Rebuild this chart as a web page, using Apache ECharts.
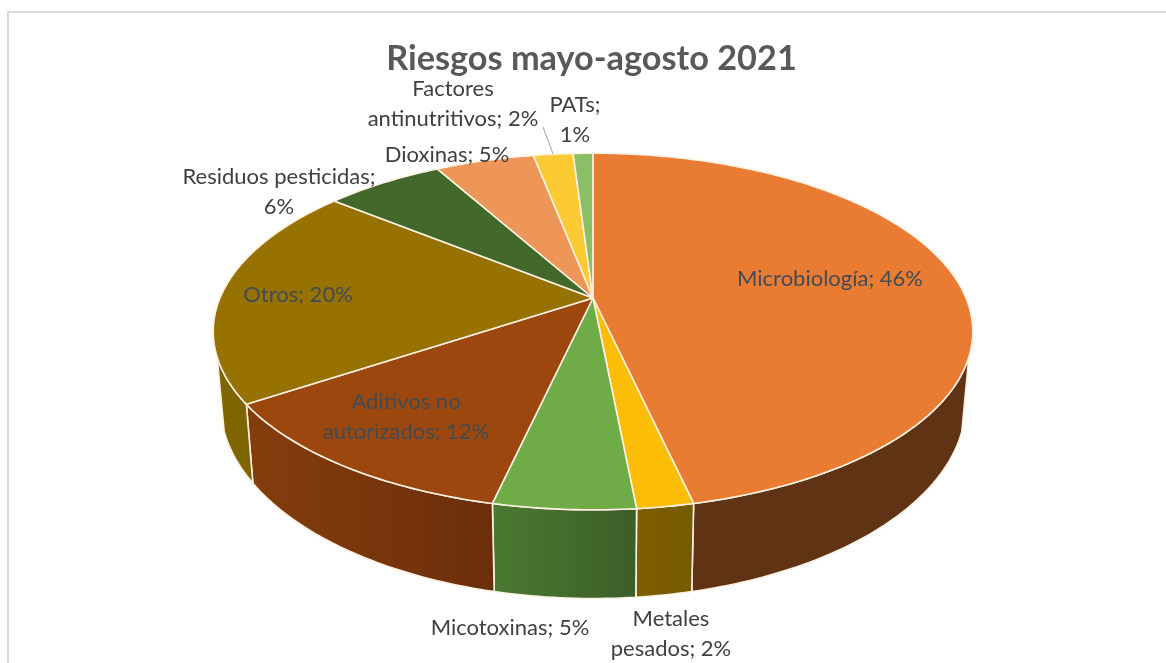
<!DOCTYPE html>
<html>
<head>
<meta charset="utf-8">
<style>
  html, body { margin: 0; padding: 0; background: #fff; overflow: hidden; }
  #chart { width: 1166px; height: 663px; }
</style>
<script src="https://cdn.jsdelivr.net/npm/echarts@6/dist/echarts.min.js"></script>
</head>
<body>
<div id="chart"></div>
<script>
// datos
const categories = ['Microbiología', 'Metales\npesados', 'Micotoxinas', 'Aditivos no\nautorizados', 'Otros', 'Residuos pesticidas', 'Dioxinas', 'Factores\nantinutritivos', 'PATs']
const values = [46, 2, 5, 12, 20, 6, 5, 2, 1]

// colores
const topColors = ['#ea7b32', '#fbbd05', '#6fab47', '#9c470e', '#977200', '#43682b', '#ee9558', '#fccb33', '#8abf67']
const wallColors = [
  ['#5f3314', '#5f3314'],
  ['#7d5e00', '#775a00'],
  ['#4a7a31', '#3c5e28'],
  ['#853d0c', '#6b2e0a'],
  ['#7f6500', '#7f6500'],
  ['#3a5a25', '#3a5a25'],
  ['#a0603a', '#a0603a'],
  ['#a98a20', '#a98a20'],
  ['#5d8245', '#5d8245']
]

// posicion de las etiquetas
const labelSeparators = [' ', ' ', ' ', ' ', ' ', '\n', ' ', ' ', '\n']
const labelAnchors = [[830, 279], [671, 634], [510, 628], [406, 417], [298, 295], [279, 192], [447, 155], [453, 104], [575, 120]]

// proyeccion en perspectiva del disco
const hubX = 593
const topDisc = { y: 298, a: 373, b: 172 }
const baseDisc = { y: 367, a: 366, b: 188 }
const tilt = 0.188
const wallFrom = 108.8
const wallTo = 251.2

const total = values.reduce((s, v) => s + v, 0)
const angleOf = (cum) => cum / total * 360

const project = (disc, deg) => {
  const t = deg * Math.PI / 180
  const w = 1 + tilt * Math.cos(t)
  return [hubX + disc.a * Math.sin(t) / w, disc.y - disc.b * Math.cos(t) / w]
}

const arc = (disc, from, to) => {
  const n = Math.max(2, Math.ceil(Math.abs(to - from)))
  const pts = []
  for (let i = 0; i <= n; i++) pts.push(project(disc, from + (to - from) * i / n))
  return pts
}

const sliceRange = (i) => {
  const before = values.slice(0, i).reduce((s, v) => s + v, 0)
  return [angleOf(before), angleOf(before + values[i])]
}

const renderTop = (params) => {
  const [from, to] = sliceRange(params.dataIndex)
  return {
    type: 'polygon',
    shape: { points: [[hubX, topDisc.y]].concat(arc(topDisc, from, to)) },
    style: { fill: topColors[params.dataIndex], stroke: '#fdf1e3', lineWidth: 1.6, lineJoin: 'round' }
  }
}

const renderWall = (params) => {
  const i = params.dataIndex
  const [start, end] = sliceRange(i)
  const from = Math.max(start, wallFrom)
  const to = Math.min(end, wallTo)
  if (to <= from) return null
  const pts = arc(topDisc, from, to).concat(arc(baseDisc, to, from))
  return {
    type: 'polygon',
    shape: { points: pts },
    style: {
      fill: new echarts.graphic.LinearGradient(0, 0, 1, 0, [
        { offset: 0, color: wallColors[i][0] },
        { offset: 1, color: wallColors[i][1] }
      ]),
      stroke: '#fdf1e3',
      lineWidth: 1.6
    }
  }
}

const renderLabel = (params) => {
  const i = params.dataIndex
  const children = [{
    type: 'text',
    style: {
      text: categories[i] + ';' + labelSeparators[i] + values[i] + '%',
      x: labelAnchors[i][0],
      y: labelAnchors[i][1],
      textAlign: 'center',
      textVerticalAlign: 'middle',
      fontFamily: 'Lato',
      fontSize: 22,
      lineHeight: 29.5,
      fill: i === 0 || i === 3 || i === 4 ? '#434b55' : '#404040'
    }
  }]
  // linea guia de Factores antinutritivos
  if (i === 7) {
    const [from, to] = sliceRange(i)
    const end = project(topDisc, (from + to) / 2)
    children.push({
      type: 'line',
      shape: { x1: 543, y1: 127, x2: end[0], y2: end[1] },
      style: { stroke: '#a6a6a6', lineWidth: 1 }
    })
  }
  return { type: 'group', children }
}

const chart = echarts.init(document.getElementById('chart'), null, { renderer: 'canvas' })
chart.setOption({
  animation: false,
  backgroundColor: '#fff',
  title: {
    text: 'Riesgos mayo-agosto 2021',
    left: 586.5,
    top: 37,
    textAlign: 'center',
    textStyle: { color: '#595959', fontFamily: 'Lato', fontWeight: 'bold', fontSize: 34.3 }
  },
  graphic: [{
    type: 'rect',
    z: 0,
    shape: { x: 8, y: 12, width: 1200, height: 700 },
    style: { fill: 'none', stroke: '#d9d9d9', lineWidth: 2 }
  }],
  series: [
    { type: 'custom', coordinateSystem: 'none', z: 2, data: values, renderItem: renderWall },
    { type: 'custom', coordinateSystem: 'none', z: 3, data: values, renderItem: renderTop },
    { type: 'custom', coordinateSystem: 'none', z: 4, data: values, renderItem: renderLabel }
  ]
})
</script>
</body>
</html>
